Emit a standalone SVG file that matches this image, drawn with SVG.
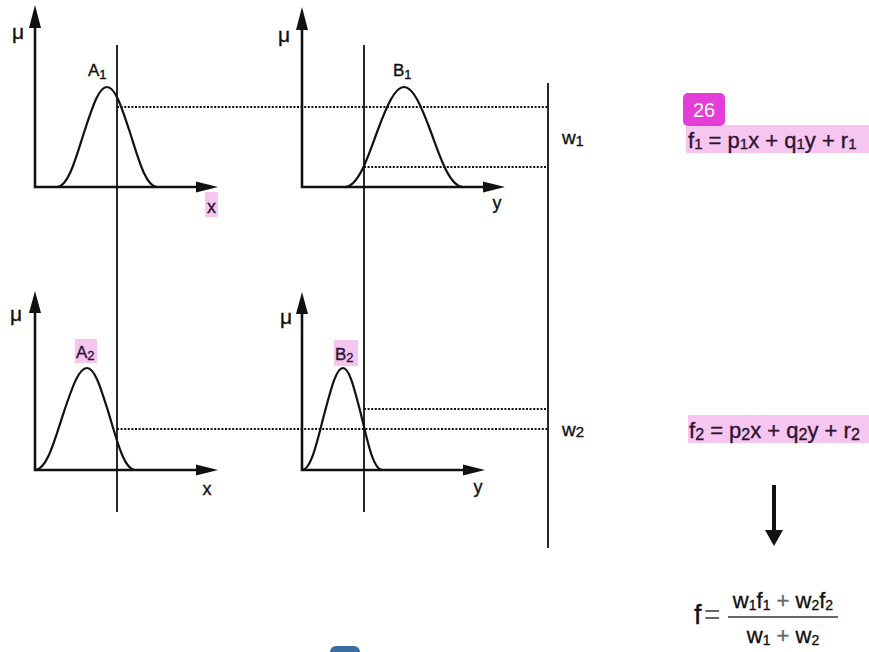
<svg xmlns="http://www.w3.org/2000/svg" width="869" height="652" viewBox="0 0 869 652">
<style>
.ax{stroke:#111;stroke-width:2.6;fill:none}
.cv{stroke:#111;stroke-width:2.2;fill:none}
.vl{stroke:#111;stroke-width:1.8;fill:none}
.dt{stroke:#111;stroke-width:1.8;stroke-dasharray:2 1.6;fill:none}
.ah{fill:#111}
.t{font-family:"Liberation Sans",Arial,sans-serif;fill:#111;stroke:#111;stroke-width:0.35}
.hl{fill:#f6c6f1}
.ht{font-family:"Liberation Sans",Arial,sans-serif;fill:#2a1430;stroke:#2a1430;stroke-width:0.35}
</style>
<rect width="869" height="652" fill="#fff"/>
<g id="plotA1">
<path class="ax" d="M35,26 V187 H200"/>
<polygon class="ah" points="35,5 29,28 41,28"/>
<polygon class="ah" points="218,187 196,181.5 196,192.5"/>
<path class="cv" d="M57,187 C69,187 77,153.5 85,129.5 C93,105.5 99,87 107,87 C115,87 121,105.5 129,129.5 C137,153.5 145,187 157,187"/>
<text class="t" x="12" y="39" font-size="21">μ</text>
<text class="t" x="88" y="76" font-size="17">A<tspan font-size="13" dy="3">1</tspan></text>
<rect class="hl" x="205" y="192" width="13" height="25"/>
<text class="ht" x="211.5" y="213" font-size="18" text-anchor="middle">x</text>
</g>
<g id="plotB1">
<path class="ax" d="M302,28 V187 H485"/>
<polygon class="ah" points="302,7 296,30 308,30"/>
<polygon class="ah" points="505,187 483,181.5 483,192.5"/>
<path class="cv" d="M345,187 C359,187 369,153.5 378,129.5 C387,105.5 395,87 404,87 C413,87 421,105.5 430,129.5 C439,153.5 449,187 463,187"/>
<text class="t" x="278" y="42" font-size="21">μ</text>
<text class="t" x="393" y="76" font-size="17">B<tspan font-size="13" dy="3">1</tspan></text>
<text class="t" x="497" y="209" font-size="18" text-anchor="middle">y</text>
</g>
<g id="plotA2">
<path class="ax" d="M35,311 V470 H200"/>
<polygon class="ah" points="35,291 29,313 41,313"/>
<polygon class="ah" points="218,470 196,464.5 196,475.5"/>
<path class="cv" d="M35,470 C47.5,470 55.8,435.8 64.1,411.3 C72.4,386.9 78.7,368 87,368 C94.7,368 100.4,386.9 108.1,411.3 C115.8,435.8 123.5,470 135,470"/>
<text class="t" x="10" y="321" font-size="21">μ</text>
<rect class="hl" x="75" y="339" width="22" height="24"/>
<text class="ht" x="76" y="358" font-size="17">A<tspan font-size="13" dy="2">2</tspan></text>
<text class="t" x="207" y="495" font-size="18" text-anchor="middle">x</text>
</g>
<g id="plotB2">
<path class="ax" d="M302,311 V470 H465"/>
<polygon class="ah" points="302,292 296,314 308,314"/>
<polygon class="ah" points="485,470 463,464.5 463,475.5"/>
<path class="cv" d="M302,470 C311.8,470 318.4,435.8 325,411.3 C331.5,386.9 336.4,368 343,368 C349.2,368 353.9,386.9 360.2,411.3 C366.4,435.8 372.6,470 382,470"/>
<text class="t" x="280" y="324" font-size="21">μ</text>
<rect class="hl" x="334" y="340" width="24" height="26"/>
<text class="ht" x="335" y="360" font-size="17">B<tspan font-size="13" dy="2">2</tspan></text>
<text class="t" x="478" y="493" font-size="18" text-anchor="middle">y</text>
</g>
<g id="connectors">
<line class="vl" x1="117" y1="45" x2="117" y2="512"/>
<line class="vl" x1="364" y1="45" x2="364" y2="512"/>
<line class="vl" x1="548" y1="83" x2="548" y2="548"/>
<line class="dt" x1="117" y1="107" x2="548" y2="107"/>
<line class="dt" x1="364" y1="167" x2="548" y2="167"/>
<line class="dt" x1="364" y1="409" x2="548" y2="409"/>
<line class="dt" x1="117" y1="429" x2="548" y2="429"/>
<line x1="774" y1="485" x2="774" y2="532" stroke="#111" stroke-width="4"/>
<polygon class="ah" points="765,530 783,530 774,546"/>
</g>
<g id="w1">
<text class="t" x="562" y="144" font-size="19">w<tspan font-size="14" dy="2">1</tspan></text>
</g>
<g id="w2">
<text class="t" x="562" y="436" font-size="19">w<tspan font-size="15" dy="1">2</tspan></text>
</g>
<g id="f1">
<rect class="hl" x="686" y="125" width="183" height="28"/>
<text class="ht" x="688" y="148" font-size="22">f<tspan font-size="15" dy="1">1</tspan><tspan dy="-1"> = p</tspan><tspan font-size="15" dy="1">1</tspan><tspan dy="-1">x + q</tspan><tspan font-size="15" dy="1">1</tspan><tspan dy="-1">y + r</tspan><tspan font-size="15" dy="1">1</tspan></text>
</g>
<g id="badge">
<rect x="683" y="93" width="42" height="33" rx="5" fill="#e53ed8"/>
<text x="704" y="117" font-size="20" text-anchor="middle" font-family="'Liberation Sans',Arial,sans-serif" fill="#fff">26</text>
</g>
<g id="f2">
<rect class="hl" x="688" y="415" width="181" height="28"/>
<text class="ht" x="689" y="438" font-size="22">f<tspan font-size="16" dy="2">2</tspan><tspan dy="-2"> = p</tspan><tspan font-size="16" dy="2">2</tspan><tspan dy="-2">x + q</tspan><tspan font-size="16" dy="2">2</tspan><tspan dy="-2">y + r</tspan><tspan font-size="16" dy="2">2</tspan></text>
</g>
<g id="f">
<text class="t" x="694" y="624" font-size="27">f</text>
<text x="704" y="624" font-size="28" font-family="'Liberation Sans',Arial,sans-serif" fill="#666">=</text>
<text class="t" x="783" y="608" font-size="22" text-anchor="middle">w<tspan font-size="14" dy="2">1</tspan><tspan dy="-2">f</tspan><tspan font-size="14" dy="2">1</tspan><tspan dy="-2" fill="#666" stroke="#666"> + </tspan><tspan>w</tspan><tspan font-size="14" dy="2">2</tspan><tspan dy="-2">f</tspan><tspan font-size="14" dy="2">2</tspan></text>
<line x1="728" y1="617" x2="838" y2="617" stroke="#666" stroke-width="2"/>
<text class="t" x="783" y="643" font-size="22" text-anchor="middle">w<tspan font-size="14" dy="2">1</tspan><tspan dy="-2" fill="#666" stroke="#666"> + </tspan><tspan>w</tspan><tspan font-size="14" dy="2">2</tspan></text>
</g>
<rect x="330" y="646" width="30" height="14" rx="6" fill="#3b6e9e"/>
</svg>
